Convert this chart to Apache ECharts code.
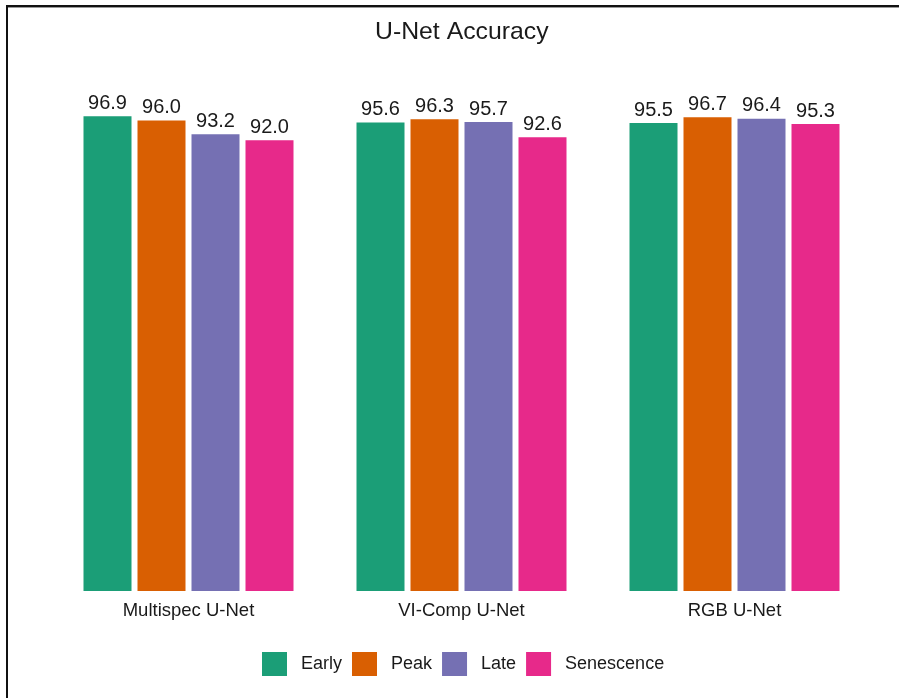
<!DOCTYPE html>
<html>
<head>
<meta charset="utf-8">
<script src="https://cdn.jsdelivr.net/npm/echarts@6/dist/echarts.min.js"></script>
<style>
  html, body { margin: 0; padding: 0; background: #fff; }
  #chart { width: 899px; height: 698px; }
</style>
</head>
<body>
<div id="chart"></div>
<script>
// Model variants along the x axis
const models = ['Multispec U-Net', 'VI-Comp U-Net', 'RGB U-Net'];
// Accuracy (%) per growth stage
const early = [96.9, 95.6, 95.5];
const peak = [96.0, 96.3, 96.7];
const late = [93.2, 95.7, 96.4];
const senescence = [92.0, 92.6, 95.3];
const stages = ['Early', 'Peak', 'Late', 'Senescence'];
const stageColors = ['#1b9e77', '#d95f02', '#7570b3', '#e7298a'];

const font = 'Liberation Sans, Arial, sans-serif';
const chart = echarts.init(document.getElementById('chart'), null, { renderer: 'canvas' });

const seriesData = [early, peak, late, senescence];
const series = stages.map((name, i) => ({
  name: name,
  type: 'bar',
  data: seriesData[i],
  barWidth: 48,
  barGap: '12.5%',
  itemStyle: { color: stageColors[i] },
  label: {
    show: true,
    position: 'top',
    distance: 3,
    formatter: p => p.value.toFixed(1),
    color: '#1a1a1a',
    fontFamily: font,
    fontSize: 20
  }
}));

chart.setOption({
  animation: false,
  backgroundColor: '#ffffff',
  title: {
    text: 'U-Net Accuracy',
    left: 370,
    top: 15,
    textStyle: { fontFamily: font, fontSize: 24.8, fontWeight: 'normal', color: '#1a1a1a' }
  },
  legend: {
    data: stages,
    bottom: 17,
    left: 257,
    itemWidth: 25,
    itemHeight: 24,
    itemGap: 10,
    textStyle: { fontFamily: font, fontSize: 18, color: '#1a1a1a', padding: [0, 0, 0, 9] },
    icon: 'rect'
  },
  grid: { left: 52, right: 28, top: 101, bottom: 107, containLabel: false },
  xAxis: {
    type: 'category',
    data: models,
    axisLine: { show: false },
    axisTick: { show: false },
    axisLabel: { fontFamily: font, fontSize: 18.5, color: '#1a1a1a', margin: 10 }
  },
  yAxis: {
    type: 'value',
    min: 0,
    max: 100,
    show: false,
    splitLine: { show: false }
  },
  series: series,
  graphic: [
    { type: 'rect', shape: { x: 6, y: 5, width: 893, height: 2 }, style: { fill: '#111' } },
    { type: 'rect', shape: { x: 6, y: 7, width: 893, height: 1 }, style: { fill: '#999' } },
    { type: 'rect', shape: { x: 6, y: 5, width: 2, height: 693 }, style: { fill: '#111' } }
  ]
});
</script>
</body>
</html>
